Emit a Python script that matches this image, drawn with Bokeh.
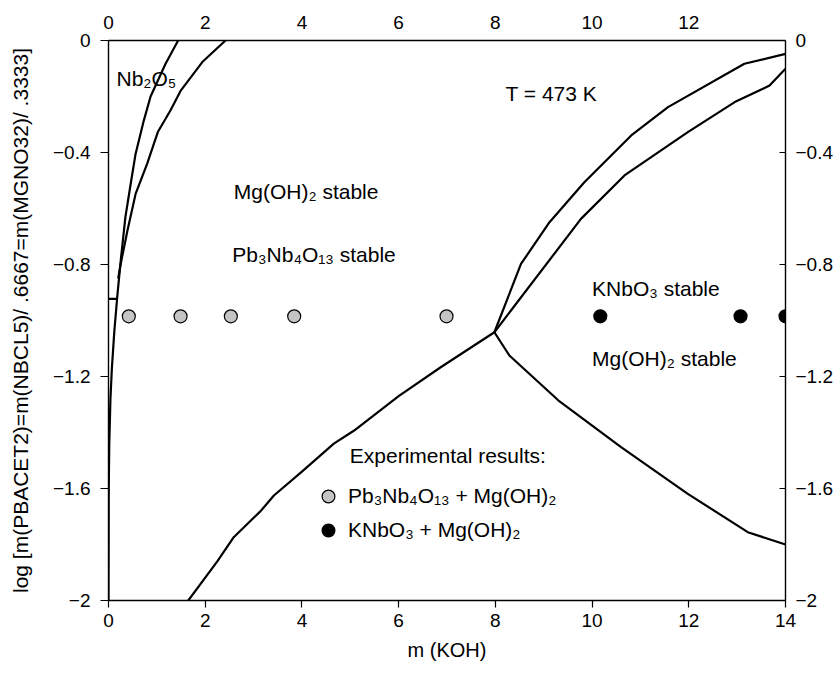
from bokeh.plotting import figure
from bokeh.models import (Range1d, LinearAxis, FixedTicker, Label, Legend, LegendItem)
from bokeh.embed import file_html
from bokeh.resources import INLINE

# ---- data ----
# Nb2O5 boundaries (left)
a_m = [1.44, 1.18, 0.87, 0.73, 0.56, 0.47, 0.35, 0.26, 0.18, 0.12, 0.07, 0.04, 0.015, 0.005, 0.0]
a_y = [0.0, -0.083, -0.2, -0.286, -0.405, -0.5, -0.63, -0.774, -0.917, -1.04, -1.17, -1.28, -1.45, -1.6, -2.0]
b_m = [2.42, 1.94, 1.49, 1.28, 1.02, 0.8, 0.56, 0.39, 0.25, 0.2]
b_y = [0.0, -0.077, -0.18, -0.25, -0.327, -0.44, -0.548, -0.68, -0.8, -0.85]
h_m = [0.0, 0.17]
h_y = [-0.923, -0.923]
# lower boundary Pb3Nb4O13 / KNbO3 field
c_m = [1.65, 2.25, 2.59, 3.15, 3.42, 4.0, 4.66, 5.08, 6.0, 6.87, 7.98]
c_y = [-2.0, -1.86, -1.774, -1.68, -1.625, -1.54, -1.44, -1.393, -1.27, -1.167, -1.042]
d_m = [7.98, 8.29, 9.3, 10.6, 11.98, 13.22, 14.0]
d_y = [-1.042, -1.125, -1.285, -1.452, -1.619, -1.756, -1.80]
# upper right boundaries
e_m = [7.98, 8.53, 9.12, 9.84, 10.81, 11.57, 13.15, 14.0]
e_y = [-1.042, -0.798, -0.649, -0.506, -0.339, -0.238, -0.083, -0.048]
f_m = [7.98, 9.77, 10.67, 11.98, 12.95, 13.67, 14.0]
f_y = [-1.042, -0.637, -0.482, -0.327, -0.22, -0.161, -0.101]

# experimental points
pb_m = [0.42, 1.49, 2.53, 3.84, 6.99]
pb_y = [-0.985, -0.985, -0.985, -0.985, -0.985]
kn_m = [10.17, 13.07, 14.0]
kn_y = [-0.985, -0.985, -0.985]

x_ticks = [0, 2, 4, 6, 8, 10, 12, 14]
x_ticks_top = [0, 2, 4, 6, 8, 10, 12]
y_ticks = [0, -0.4, -0.8, -1.2, -1.6, -2]
y_tick_labels = ["0", "\u22120.4", "\u22120.8", "\u22121.2", "\u22121.6", "\u22122"]

FONT = "Liberation Sans"

p = figure(width=837, height=673, output_backend="svg", toolbar_location=None,
           x_range=Range1d(0, 14), y_range=Range1d(-2, 0),
           min_border_left=108, min_border_right=52, min_border_top=40, min_border_bottom=73)
p.grid.visible = False
p.outline_line_color = None
p.background_fill_color = "white"
p.border_fill_color = "white"

overrides = {t: s for t, s in zip(y_ticks, y_tick_labels)}


def style_axis(ax):
    ax.axis_line_color = "black"
    ax.axis_line_width = 1.4
    ax.major_tick_line_color = "black"
    ax.major_tick_line_width = 1.2
    ax.minor_tick_line_color = None
    ax.major_label_text_font = FONT
    ax.major_label_text_font_size = "19px"
    ax.major_label_text_color = "black"
    ax.axis_label_text_font = FONT
    ax.axis_label_text_font_size = "20px"
    ax.axis_label_text_font_style = "normal"
    ax.axis_label_text_color = "black"


xb = p.xaxis[0]
xb.ticker = FixedTicker(ticks=x_ticks)
xb.axis_label = "m (KOH)"
style_axis(xb)
xb.major_tick_in = 0
xb.major_tick_out = 7
xb.major_label_standoff = 6
xb.axis_label_standoff = 9

yl = p.yaxis[0]
yl.ticker = FixedTicker(ticks=y_ticks)
yl.major_label_overrides = overrides
yl.axis_label = "log [m(PBACET2)=m(NBCL5)/ .6667=m(MGNO32)/ .3333]"
style_axis(yl)
yl.axis_label_text_font_size = "21px"
yl.major_tick_in = 0
yl.major_tick_out = 8
yl.major_label_standoff = 10
yl.axis_label_standoff = 18

xt = LinearAxis(ticker=FixedTicker(ticks=x_ticks_top))
style_axis(xt)
xt.major_tick_in = 0
xt.major_tick_out = 0
xt.major_label_standoff = 12
p.add_layout(xt, "above")

yr = LinearAxis(ticker=FixedTicker(ticks=y_ticks))
yr.major_label_overrides = overrides
style_axis(yr)
yr.major_tick_in = 6
yr.major_tick_out = 0
yr.major_label_standoff = 10
p.add_layout(yr, "right")

LW = 2.2
for xs, ys in [(a_m, a_y), (b_m, b_y), (h_m, h_y), (c_m, c_y), (d_m, d_y), (e_m, e_y), (f_m, f_y)]:
    p.line(xs, ys, line_color="black", line_width=LW, line_join="round")

r_pb = p.scatter(pb_m, pb_y, size=13, marker="circle", fill_color="#c4c4c4",
                 line_color="black", line_width=1.2)
r_kn = p.scatter(kn_m, kn_y, size=13, marker="circle", fill_color="black",
                 line_color="black", line_width=1.2)

labels = [
    ("Nb\u2082O\u2085", 0.165, -0.136),
    ("T = 473 K", 8.21, -0.19),
    ("Mg(OH)\u2082 stable", 2.59, -0.54),
    ("Pb\u2083Nb\u2084O\u2081\u2083 stable", 2.56, -0.764),
    ("KNbO\u2083 stable", 10.0, -0.886),
    ("Mg(OH)\u2082 stable", 10.0, -1.136),
    ("Experimental results:", 4.99, -1.482),
]
for t, lx, ly in labels:
    p.add_layout(Label(x=lx, y=ly, text=t, text_font=FONT, text_font_size="21px",
                       text_color="black", text_baseline="middle", text_align="left"))

legend = Legend(items=[
    LegendItem(label="Pb\u2083Nb\u2084O\u2081\u2083 + Mg(OH)\u2082", renderers=[r_pb]),
    LegendItem(label="KNbO\u2083 + Mg(OH)\u2082", renderers=[r_kn]),
], location=(204, 54))
legend.border_line_color = None
legend.background_fill_alpha = 0
legend.padding = 0
legend.margin = 0
legend.glyph_width = 32
legend.glyph_height = 32
legend.label_height = 32
legend.label_standoff = 4
legend.spacing = 2
legend.label_text_font = FONT
legend.label_text_font_size = "21px"
legend.label_text_color = "black"
p.add_layout(legend, "center")

open("out.html", "w").write(file_html(p, INLINE))
